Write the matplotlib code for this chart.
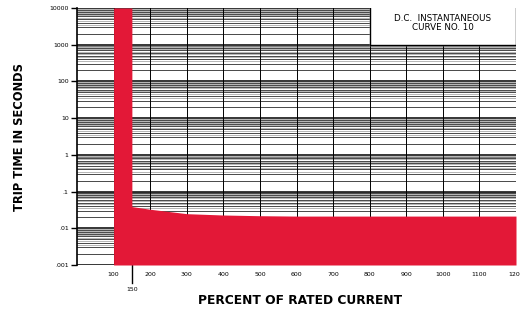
import numpy as np
import matplotlib.pyplot as plt

# trip curve (percent of rated current, seconds)
current = [100, 150, 150, 200, 300, 400, 500, 600, 800, 1000, 1200]
trip = [10000, 10000, 0.039, 0.033, 0.025, 0.023, 0.022, 0.0215, 0.0215, 0.0215, 0.0215]

x_ticks = [100, 200, 300, 400, 500, 600, 700, 800, 900, 1000, 1100, 1200]
y_ticks = [0.001, 0.01, 0.1, 1, 10, 100, 1000, 10000]
y_labels = ['.001', '.01', '.1', '1', '10', '100', '1000', '10000']

red = '#e31837'

fig = plt.figure(figsize=(5.2, 3.11), dpi=100)
ax = fig.add_axes([77/520, 46/311, 439/520, 257/311])
ax.set_yscale('log')
ax.set_xlim(0, 1200)
ax.set_ylim(0.001, 10000)

# log paper style grid
for d in y_ticks[:-1]:
    for k in [2, 3, 4, 5, 6, 7, 8, 9]:
        ax.axhline(d*k, color='black', lw=0.5, zorder=1)
    for k in [3.5, 4.5, 5.5, 6.5, 7.5, 8.5, 9.5]:
        ax.axhline(d*k, color='#999999', lw=0.5, zorder=1)
for d in y_ticks:
    ax.axhline(d, color='black', lw=1.1, zorder=1)
for x in x_ticks:
    ax.axvline(x, color='black', lw=0.7, zorder=1)

ax.fill_between(current, 0.001, trip, color=red, lw=0, zorder=3)

# title box
ax.fill_between([800, 1200], 1000, 10000, color='white', zorder=4)
ax.plot([800, 800, 1200, 1200], [10000, 1000, 1000, 10000], color='black', lw=1, zorder=5)
ax.text(1000, 4000, 'D.C.  INSTANTANEOUS\nCURVE NO. 10', ha='center', va='center',
        fontsize=6.3, linespacing=1.0, zorder=6)

ax.set_xticks(x_ticks)
ax.set_xticklabels([str(x) for x in x_ticks], fontsize=4.5)
ax.set_yticks(y_ticks)
ax.set_yticklabels(y_labels, fontsize=4.5)
ax.minorticks_off()
ax.tick_params(axis='x', length=0, pad=5)
ax.tick_params(axis='y', length=4, width=1, pad=2)

# the 150 marker below the axis
ax.plot([150, 150], [0.001, 0.00032], color='black', lw=1, clip_on=False)
ax.text(150, 0.00022, '150', ha='center', va='center', fontsize=4.5)

for s in ['top', 'right', 'bottom']:
    ax.spines[s].set_visible(False)
ax.spines['left'].set_linewidth(1.2)

fig.text(20/520, 1 - 137/311, 'TRIP TIME IN SECONDS', rotation=90, ha='center', va='center',
         fontsize=8.3, fontweight='bold')
fig.text(300/520, 1 - 300/311, 'PERCENT OF RATED CURRENT', ha='center', va='center',
         fontsize=8.8, fontweight='bold')

fig.savefig('out.png', dpi=100)
